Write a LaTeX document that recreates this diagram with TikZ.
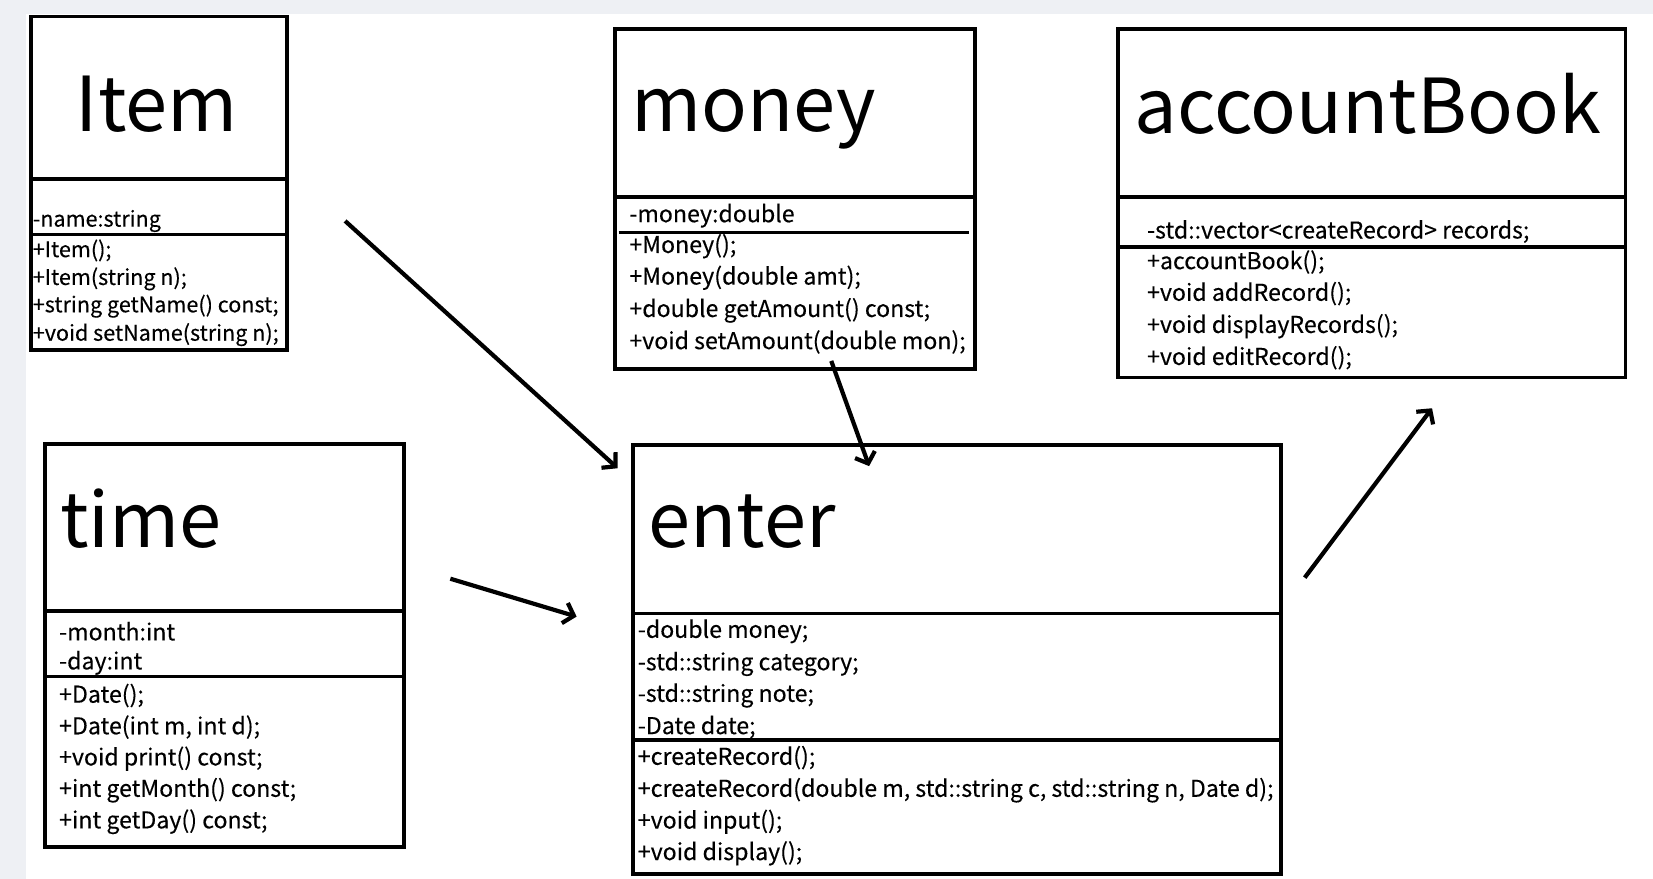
\documentclass[tikz,border=0pt]{standalone}
\usepackage{fontspec}
\setmainfont{Noto Sans CJK SC}
\newfontfamily\memberfont[FakeBold=0.25]{Noto Sans CJK SC}
\usetikzlibrary{arrows.meta}

\definecolor{pagegray}{RGB}{238,240,244}

\begin{document}
\begin{tikzpicture}[x=1pt, y=-1pt,
  box/.style={draw, line width=3.5pt, anchor=north west, inner sep=0pt},
  rule/.style={line width=3.5pt},
  title/.style={font=\fontsize{72}{72}\selectfont, anchor=base west, inner sep=0pt},
  member/.style={font=\memberfont\fontsize{22}{22}\selectfont, anchor=west, inner sep=0pt, yshift=-3pt},
  tiny/.style={font=\memberfont\fontsize{20.5}{20.5}\selectfont, anchor=west, inner sep=0pt, yshift=-2pt},
  link/.style={line width=4pt, -{Straight Barb[length=9pt, width=20pt]}}]
\useasboundingbox (0,0) rectangle (1571,835);
\fill[white] (0,0) rectangle (1571,835);
\fill[pagegray] (0,0) rectangle (1571,13);
\fill[pagegray] (0,0) rectangle (25,835);

% Item
\node[box, minimum width=243pt, minimum height=317pt] (item) at (28,14) {};
\draw[rule] (28,170) -- (271,170);
\draw[rule] (28,223) -- (271,223);
\node[title, anchor=base] (itemName) at (149,125) {Item};
\node[tiny] (itemA) at (31,208) {-name:string};
\node[tiny] (itemM1) at (31,236) {+Item();};
\node[tiny] (itemM2) at (31,263) {+Item(string n);};
\node[tiny] (itemM3) at (31,289) {+string getName() const;};
\node[tiny] (itemM4) at (31,316) {+void setName(string n);};

% money
\node[box, minimum width=342pt, minimum height=323pt] (money) at (583,26) {};
\draw[rule] (583,187) -- (925,187);
\draw[rule] (588,221) -- (921,221);
\node[title] (moneyName) at (600,125) {money};
\node[member] (moneyA) at (598,202) {-money:double};
\node[member] (moneyM1) at (598,231) {+Money();};
\node[member] (moneyM2) at (598,261) {+Money(double amt);};
\node[member] (moneyM3) at (598,292) {+double getAmount() const;};
\node[member] (moneyM4) at (598,322) {+void setAmount(double mon);};

% accountBook
\node[box, minimum width=482pt, minimum height=331pt] (book) at (1061,26) {};
\draw[rule] (1061,187) -- (1543,187);
\draw[rule] (1061,235) -- (1543,235);
\node[title] (bookName) at (1078,127) {accountBook};
\node[member] (bookA) at (1090,217) {-std::vector<createRecord> records;};
\node[member] (bookM1) at (1090,246) {+accountBook();};
\node[member] (bookM2) at (1090,276) {+void addRecord();};
\node[member] (bookM3) at (1090,307) {+void displayRecords();};
\node[member] (bookM4) at (1090,337) {+void editRecord();};

% time
\node[box, minimum width=341pt, minimum height=383pt] (time) at (41,420) {};
\draw[rule] (41,581) -- (382,581);
\draw[rule] (45,643) -- (382,643);
\node[title] (timeName) at (57,520) {time};
\node[member] (timeA1) at (56,597) {-month:int};
\node[member] (timeA2) at (56,627) {-day:int};
\node[member] (timeM1) at (56,658) {+Date();};
\node[member] (timeM2) at (56,688) {+Date(int m, int d);};
\node[member] (timeM3) at (56,718) {+void print() const;};
\node[member] (timeM4) at (56,748) {+int getMonth() const;};
\node[member] (timeM5) at (56,778) {+int getDay() const;};

% enter
\node[box, minimum width=616pt, minimum height=408pt] (enter) at (600,421) {};
\draw[rule] (600,583) -- (1216,583);
\draw[rule] (600,703) -- (1216,703);
\node[title] (enterName) at (616,520) {enter};
\node[member] (enterA1) at (606,597) {-double money;};
\node[member] (enterA2) at (606,628) {-std::string category;};
\node[member] (enterA3) at (606,658) {-std::string note;};
\node[member] (enterA4) at (606,688) {-Date date;};
\node[member] (enterM1) at (606,717) {+createRecord();};
\node[member] (enterM2) at (606,748) {+createRecord(double m, std::string c, std::string n, Date d);};
\node[member] (enterM3) at (606,778) {+void input();};
\node[member] (enterM4) at (606,808) {+void display();};

% free arrows between the classes
\coordinate (itemTail) at (328,210);
\coordinate (itemHead) at (587,445);
\coordinate (moneyTail) at (790,343);
\coordinate (moneyHead) at (826,443);
\coordinate (timeTail) at (428,550);
\coordinate (timeHead) at (548,586);
\coordinate (enterTail) at (1240,549);
\coordinate (bookHead) at (1361,388);

\draw[link] (itemTail) -- (itemHead);
\draw[link] (moneyTail) -- (moneyHead);
\draw[link] (timeTail) -- (timeHead);
\draw[link] (enterTail) -- (bookHead);
\end{tikzpicture}
\end{document}
